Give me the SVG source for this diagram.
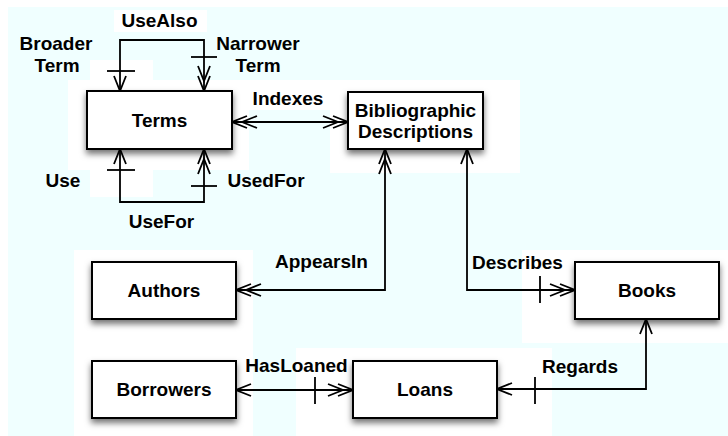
<svg xmlns="http://www.w3.org/2000/svg" width="728" height="436" viewBox="0 0 728 436">
<style>
.node rect.box{fill:#fff;stroke:#000;stroke-width:2;filter:url(#sh)}
text{font-family:"Liberation Sans",Arial,sans-serif;font-weight:bold;font-size:19px;fill:#000;text-anchor:middle}
.c path,.c line{fill:none;stroke:#000;stroke-width:1.8}
.patch{fill:#fff}
</style>
<defs>
<filter id="sh" x="-20%" y="-30%" width="140%" height="170%">
<feDropShadow dx="0" dy="4" stdDeviation="3" flood-color="#000" flood-opacity="0.55"/>
</filter>
<marker id="a1" markerUnits="userSpaceOnUse" viewBox="0 0 30 16" markerWidth="30" markerHeight="16" refX="28" refY="8" orient="auto-start-reverse">
<path d="M13,2 L28,8 L13,14" fill="none" stroke="#000" stroke-width="1.8"/>
</marker>
<marker id="a2" markerUnits="userSpaceOnUse" viewBox="0 0 30 16" markerWidth="30" markerHeight="16" refX="28" refY="8" orient="auto-start-reverse">
<path d="M13,2 L28,8 L13,14 M3,2 L18,8 L3,14" fill="none" stroke="#000" stroke-width="1.8"/>
</marker>
</defs>
<rect x="0" y="0" width="728" height="436" fill="#fff"/>
<rect x="8" y="7" width="720" height="429" fill="#F0FFFF"/>
<g id="patches">
<rect class="patch" x="114" y="10" width="93" height="22"/>
<rect class="patch" x="90" y="60" width="63" height="20"/>
<rect class="patch" x="68" y="80" width="181" height="90"/>
<rect class="patch" x="90" y="170" width="63" height="27"/>
<rect class="patch" x="249" y="80" width="81" height="30"/>
<rect class="patch" x="330" y="80" width="190" height="93"/>
<rect class="patch" x="74" y="250" width="179" height="186"/>
<rect class="patch" x="522" y="250" width="206" height="93"/>
<rect class="patch" x="296" y="348" width="256" height="88"/>
</g>
<g id="connectors" class="c">
<path d="M120,91 V40 H204 V91" marker-start="url(#a1)" marker-end="url(#a2)"/>
<line x1="107" y1="71" x2="135" y2="71"/>
<line x1="191" y1="57" x2="217" y2="57"/>
<path d="M120,149 V202 H204 V149" marker-start="url(#a1)" marker-end="url(#a2)"/>
<line x1="107" y1="170" x2="135" y2="170"/>
<line x1="191" y1="186" x2="217" y2="186"/>
<path d="M232,122 H348" marker-start="url(#a2)" marker-end="url(#a2)"/>
<path d="M236,290 H385 V149" marker-start="url(#a2)" marker-end="url(#a2)"/>
<path d="M467,149 V290 H575" marker-start="url(#a1)" marker-end="url(#a2)"/>
<line x1="540" y1="276" x2="540" y2="303"/>
<path d="M646,319 V389 H497" marker-start="url(#a1)" marker-end="url(#a1)"/>
<line x1="535" y1="377" x2="535" y2="404"/>
<path d="M236,390 H353" marker-start="url(#a1)" marker-end="url(#a2)"/>
<line x1="315" y1="377" x2="315" y2="404"/>
</g>
<g id="labels">
<text x="159.5" y="27">UseAlso</text>
<text x="56" y="50">Broader</text>
<text x="57" y="72">Term</text>
<text x="258" y="50">Narrower</text>
<text x="258" y="72">Term</text>
<text x="288" y="105">Indexes</text>
<text x="63" y="187">Use</text>
<text x="266" y="187">UsedFor</text>
<text x="161.5" y="228">UseFor</text>
<text x="321.5" y="268">AppearsIn</text>
<text x="517.5" y="269">Describes</text>
<text x="580" y="373">Regards</text>
<text x="296.5" y="372">HasLoaned</text>
</g>
<g id="terms" class="node"><rect class="box" x="87" y="91" width="145" height="58"/><text x="159.5" y="127">Terms</text></g>
<g id="bibliographic" class="node"><rect class="box" x="348" y="92" width="135" height="57"/><text x="415.5" y="117">Bibliographic</text><text x="415.5" y="138">Descriptions</text></g>
<g id="authors" class="node"><rect class="box" x="92" y="262" width="144" height="57"/><text x="164" y="297">Authors</text></g>
<g id="books" class="node"><rect class="box" x="575" y="262" width="144" height="57"/><text x="647" y="297">Books</text></g>
<g id="borrowers" class="node"><rect class="box" x="92" y="361" width="144" height="57"/><text x="164" y="396">Borrowers</text></g>
<g id="loans" class="node"><rect class="box" x="353" y="361" width="144" height="57"/><text x="425" y="396">Loans</text></g>
</svg>
